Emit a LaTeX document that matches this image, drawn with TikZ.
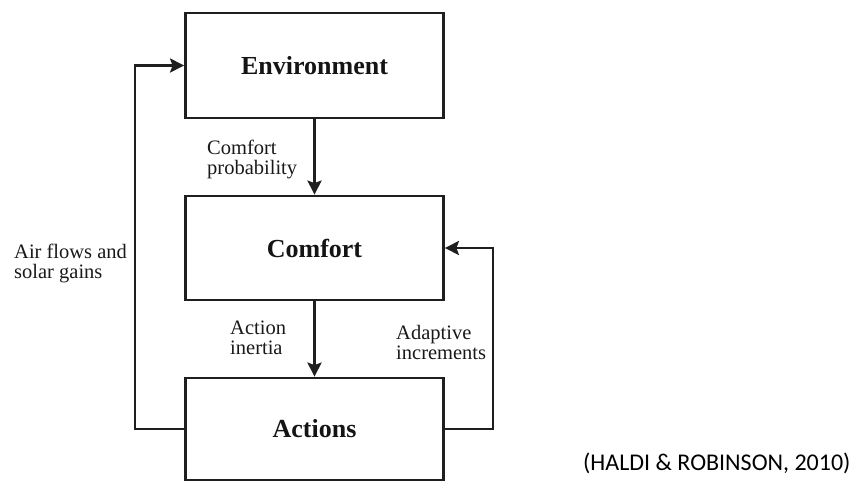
\documentclass[tikz,border=0pt]{standalone}
\usepackage{fontspec}
\setmainfont{Liberation Serif}
\newfontfamily\citefont{Carlito}
\usetikzlibrary{arrows.meta}

\tikzset{
  block/.style={draw=black!88, line width=2.8pt, minimum width=258pt, inner sep=0pt,
    font=\fontsize{26}{28}\selectfont\bfseries, text=black!92},
  link/.style={draw=black!88, line width=2.8pt,
    -{Stealth[length=14pt,width=14pt,inset=2.5pt]}},
  note/.style={align=left, anchor=west, inner sep=0pt,
    font=\fontsize{20.5}{20}\selectfont, text=black!90},
}

\begin{document}
\begin{tikzpicture}[x=1pt, y=-1pt]
  \useasboundingbox (0,0) rectangle (853,490);

  % the three blocks of the loop
  \node[block, minimum height=105pt] (env) at (314.5,65.5) {Environment};
  \node[block, minimum height=104pt] (com) at (314.5,248) {Comfort};
  \node[block, minimum height=102pt] (act) at (314.5,429) {Actions};

  % feedback columns to the left and right
  \coordinate (lc) at (135,0);
  \coordinate (rc) at (493,0);

  \draw[link] (env.south) -- (com.north);
  \draw[link] (com.south) -- (act.north);
  \draw[link] (act.west) -- (act.west -| lc) |- (env.west);
  \draw[link] (act.east) -- (act.east -| rc) |- (com.east);

  % connector labels
  \node[note] (lp) at (207,159) {Comfort\\probability};
  \node[note] (la) at (14,263) {Air flows and\\solar gains};
  \node[note] (li) at (230,338) {Action\\inertia};
  \node[note] (ld) at (396,342) {Adaptive\\increments};

  % source
  \node[anchor=west, inner sep=0pt, font=\citefont\fontsize{24}{26}\selectfont] (src)
    at (583,463) {(HALDI \& ROBINSON, 2010)};
\end{tikzpicture}
\end{document}
